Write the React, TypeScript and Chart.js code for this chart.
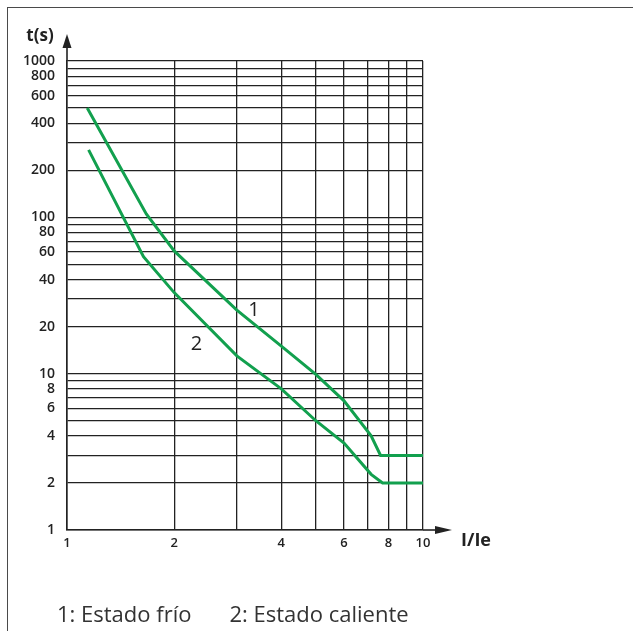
import React, { useEffect, useRef } from 'react';
import { Chart, registerables } from 'chart.js';

Chart.register(...registerables);

// Curve 1: cold state (I/Ie vs t(s))
const coldCurrent = [1.14, 1.67, 2, 3, 4, 5, 6, 7.15, 7.6, 10];
const coldTime = [500, 105, 61, 25.5, 15, 9.9, 6.7, 4, 3, 3];

// Curve 2: hot state
const hotCurrent = [1.15, 1.64, 2, 3, 4, 5, 6, 7.15, 7.7, 10];
const hotTime = [270, 56, 33, 13, 8, 5, 3.6, 2.27, 2, 2];

// Grid lines and tick labels
const xGridValues = [1, 2, 3, 4, 5, 6, 7, 8, 9, 10];
const xTickLabels = [1, 2, 4, 6, 8, 10];
const yGridValues = [
  1, 2, 3, 4, 5, 6, 7, 8, 9,
  10, 20, 30, 40, 50, 60, 70, 80, 90,
  100, 200, 300, 400, 500, 600, 700, 800, 900, 1000,
];
const yTickLabels = [1, 2, 4, 6, 8, 10, 20, 40, 60, 80, 100, 200, 400, 600, 800, 1000];

// Curve labels (data coordinates)
const curveLabels = ['1', '2'];
const curveLabelX = [3.35, 2.31];
const curveLabelY = [25.6, 15.3];

const legendItems = ['1: Estado frío', '2: Estado caliente'];

const GREEN = '#12a04e';
const INK = '#222222';
const FONT = "'Open Sans', 'DejaVu Sans', sans-serif";

const overlayPlugin = {
  id: 'overlay',
  afterDraw(chart: any) {
    const { ctx, chartArea } = chart;
    const { left, right, top, bottom } = chartArea;
    const xs = chart.scales.x;
    const ys = chart.scales.y;
    ctx.save();
    ctx.strokeStyle = INK;
    ctx.fillStyle = INK;
    ctx.lineWidth = 1.6;
    // y axis extension + arrow
    ctx.beginPath();
    ctx.moveTo(left, top);
    ctx.lineTo(left, top - 16);
    ctx.stroke();
    ctx.beginPath();
    ctx.moveTo(left, top - 27);
    ctx.lineTo(left - 4.5, top - 13);
    ctx.lineTo(left + 4.5, top - 13);
    ctx.closePath();
    ctx.fill();
    // x axis extension + arrow
    ctx.beginPath();
    ctx.moveTo(right, bottom);
    ctx.lineTo(right + 15, bottom);
    ctx.stroke();
    ctx.beginPath();
    ctx.moveTo(right + 29, bottom);
    ctx.lineTo(right + 12, bottom - 4);
    ctx.lineTo(right + 12, bottom + 4);
    ctx.closePath();
    ctx.fill();
    // axis titles
    ctx.textAlign = 'center';
    ctx.textBaseline = 'middle';
    ctx.font = `bold 17px ${FONT}`;
    ctx.fillText('t(s)', left - 27, top - 25);
    ctx.font = `bold 18px ${FONT}`;
    ctx.fillText('I/Ie', right + 53, bottom + 11);
    // curve labels
    ctx.font = `400 20px ${FONT}`;
    curveLabels.forEach((t, i) => {
      ctx.fillText(t, xs.getPixelForValue(curveLabelX[i]), ys.getPixelForValue(curveLabelY[i]));
    });
    ctx.restore();
  },
};

export default function App() {
  const ref = useRef<HTMLCanvasElement>(null);

  useEffect(() => {
    if (!ref.current) return;
    const chart = new Chart(ref.current, {
      type: 'scatter',
      data: {
        datasets: [
          {
            label: legendItems[0],
            data: coldCurrent.map((x, i) => ({ x, y: coldTime[i] })),
            showLine: true,
            borderColor: GREEN,
            borderWidth: 3,
            pointRadius: 0,
            tension: 0,
            fill: false,
          },
          {
            label: legendItems[1],
            data: hotCurrent.map((x, i) => ({ x, y: hotTime[i] })),
            showLine: true,
            borderColor: GREEN,
            borderWidth: 3,
            pointRadius: 0,
            tension: 0,
            fill: false,
          },
        ],
      },
      options: {
        responsive: false,
        animation: false,
        events: [],
        layout: { padding: { left: 0, top: 61, right: 210, bottom: 0 } },
        plugins: { legend: { display: false }, tooltip: { enabled: false }, title: { display: false } },
        scales: {
          x: {
            type: 'logarithmic',
            min: 1,
            max: 10,
            afterBuildTicks: (s: any) => {
              s.ticks = xGridValues.map((v) => ({ value: v }));
            },
            afterFit: (s: any) => {
              s.height = 101;
            },
            ticks: {
              autoSkip: false,
              maxRotation: 0,
              padding: 5,
              color: INK,
              font: { family: FONT, size: 13, weight: '600' },
              callback: (v: any) => (xTickLabels.includes(Number(v)) ? String(v) : ''),
            },
            grid: { color: INK, lineWidth: 1.3, drawTicks: false },
            border: { color: INK, width: 1.6 },
          },
          y: {
            type: 'logarithmic',
            min: 1,
            max: 1000,
            afterBuildTicks: (s: any) => {
              s.ticks = yGridValues.map((v) => ({ value: v }));
            },
            afterFit: (s: any) => {
              s.width = 67;
            },
            ticks: {
              autoSkip: false,
              padding: 12,
              color: INK,
              font: { family: FONT, size: 14, weight: '600' },
              callback: (v: any) => (yTickLabels.includes(Number(v)) ? String(v) : ''),
            },
            grid: { color: INK, lineWidth: 1.3, drawTicks: false },
            border: { color: INK, width: 1.6 },
          },
        },
      } as any,
      plugins: [overlayPlugin],
    });
    return () => chart.destroy();
  }, []);

  return (
    <>
      <div
        style={{
          position: 'absolute',
          left: 7,
          top: 7,
          width: 626,
          height: 624,
          borderTop: '1px solid #4a4a4a',
          borderLeft: '1px solid #4a4a4a',
          boxSizing: 'border-box',
        }}
      />
      <canvas
        ref={ref}
        width={633}
        height={631}
        style={{ position: 'absolute', left: 0, top: 0, width: 633, height: 631, display: 'block' }}
      />
      <div
        style={{
          position: 'absolute',
          left: 57,
          top: 598,
          fontFamily: FONT,
          fontWeight: 400,
          fontSize: 22,
          lineHeight: '30px',
          color: '#333',
          whiteSpace: 'nowrap',
        }}
      >
        <span style={{ marginRight: 38 }}>{legendItems[0]}</span>
        <span>{legendItems[1]}</span>
      </div>
    </>
  );
}
